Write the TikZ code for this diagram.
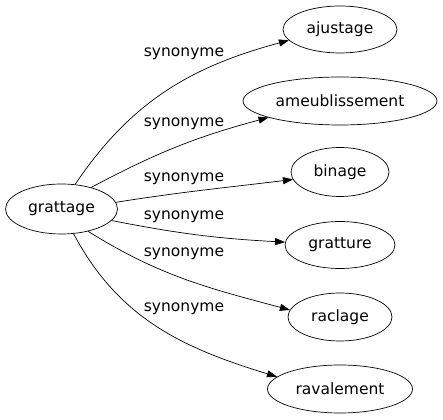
\documentclass[tikz,border=0pt]{standalone}
\usepackage{fontspec}
\setmainfont{DejaVu Sans}
\usetikzlibrary{shapes.geometric,arrows.meta}
\begin{document}
\begin{tikzpicture}[x=1pt,y=1pt,
  word/.style={draw,ellipse,inner sep=0pt,line width=0.7pt,font=\fontsize{15.5}{18}\selectfont},
  lbl/.style={inner sep=0pt,font=\fontsize{15.5}{18}\selectfont},
  syn/.style={line width=0.7pt,-{Triangle[length=10pt,width=7pt]}}]
\useasboundingbox (0,0) rectangle (443,419);
\node[word,minimum width=112pt,minimum height=50pt] (g) at (61.5,210) {grattage};
\node[word,minimum width=114pt,minimum height=47pt] (a1) at (340,389.5) {ajustage};
\node[word,minimum width=194pt,minimum height=48pt] (a2) at (340,318) {ameublissement};
\node[word,minimum width=98pt,minimum height=49pt] (a3) at (340,247) {binage};
\node[word,minimum width=110pt,minimum height=47pt] (a4) at (340,174) {gratture};
\node[word,minimum width=104pt,minimum height=48pt] (a5) at (340,102) {raclage};
\node[word,minimum width=145pt,minimum height=48pt] (a6) at (340,30) {ravalement};
\node[lbl] (l1) at (184,365) {synonyme};
\node[lbl] (l2) at (184,295) {synonyme};
\node[lbl] (l3) at (184,240) {synonyme};
\node[lbl] (l4) at (184,202) {synonyme};
\node[lbl] (l5) at (184,165) {synonyme};
\node[lbl] (l6) at (184,110) {synonyme};
\draw[syn] (g.61) to[out=56,in=195] (a1.192);
\draw[syn] (g.36) to[out=28,in=195] (a2.193);
\draw[syn] (g.7) to[out=9,in=187] (a3.189.5);
\draw[syn] (g.-13) to[out=-11,in=177] (a4.177);
\draw[syn] (g.-40) to[out=-32,in=165] (a5.172);
\draw[syn] (g.-64) to[out=-62,in=163] (a6.169);
\end{tikzpicture}
\end{document}
